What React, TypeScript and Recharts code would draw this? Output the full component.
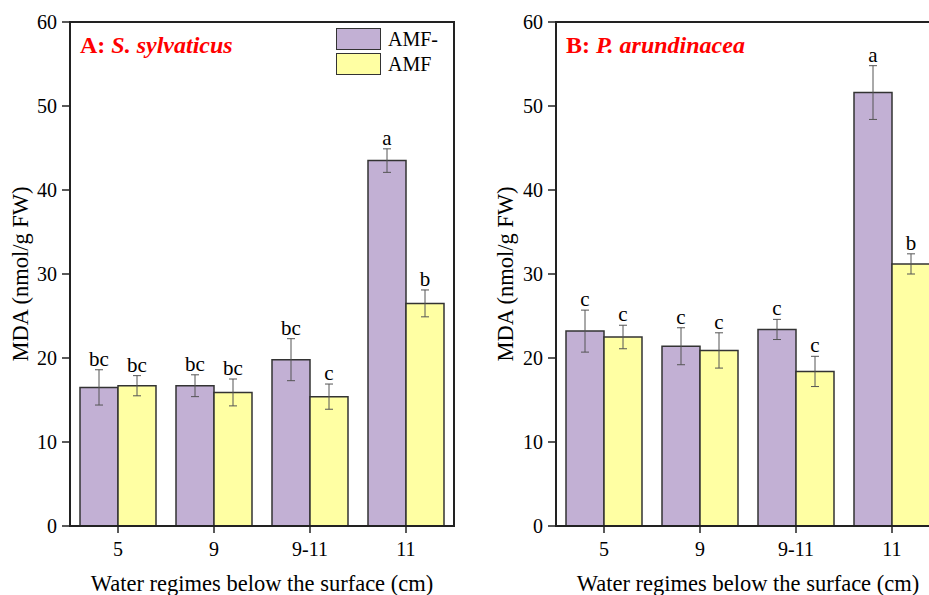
import React from "react";
import {
  BarChart, Bar, XAxis, YAxis, ErrorBar, LabelList, ReferenceArea,
} from "recharts";

const categories = ["5", "9", "9-11", "11"];
const yTicks = [0, 10, 20, 30, 40, 50, 60];
const seriesNames = ["AMF-", "AMF"];

// A: S. sylvaticus
const ssNeg = [16.5, 16.7, 19.8, 43.5];
const ssNegErr = [2.1, 1.3, 2.5, 1.4];
const ssNegLetters = ["bc", "bc", "bc", "a"];
const ssPos = [16.7, 15.9, 15.4, 26.5];
const ssPosErr = [1.2, 1.6, 1.5, 1.6];
const ssPosLetters = ["bc", "bc", "c", "b"];

// B: P. arundinacea
const paNeg = [23.2, 21.4, 23.4, 51.6];
const paNegErr = [2.5, 2.2, 1.2, 3.2];
const paNegLetters = ["c", "c", "c", "a"];
const paPos = [22.5, 20.9, 18.4, 31.2];
const paPosErr = [1.4, 2.1, 1.8, 1.2];
const paPosLetters = ["c", "c", "c", "b"];

const FONT = "'Liberation Serif', 'Times New Roman', serif";
const PURPLE = "#c2b0d4";
const YELLOW = "#ffffa3";
const COLORS = [PURPLE, YELLOW];

function buildRows(neg: number[], negErr: number[], pos: number[], posErr: number[]) {
  return categories.map((c, i) => ({
    cat: c, neg: neg[i], negErr: negErr[i], pos: pos[i], posErr: posErr[i],
  }));
}

const letterContent = (vals: number[], errs: number[], letters: string[]) => (props: any) => {
  const { x, y, width, height, index } = props;
  const h = Math.abs(Number(height));
  const pxPer = h / vals[index];
  const top = Number(y) - errs[index] * pxPer;
  return (
    <text x={Number(x) + Number(width) / 2} y={top - 4} textAnchor="middle"
      fontSize={21} fontFamily={FONT} fill="#000">
      {letters[index]}
    </text>
  );
};

const LegendBox = () => (
  <div style={{ position: "absolute", left: 336, top: 28, fontFamily: FONT, fontSize: 20, color: "#000", lineHeight: "22px" }}>
    {seriesNames.map((name, i) => (
      <div key={name} style={{ display: "flex", alignItems: "center", marginBottom: 3 }}>
        <div style={{ width: 43, height: 20, background: COLORS[i], border: "1.5px solid #333", marginRight: 7 }} />
        <span>{name}</span>
      </div>
    ))}
  </div>
);

interface PanelProps {
  left: number;
  width: number;
  yAxisWidth: number;
  titleX: number;
  prefix: string;
  species: string;
  neg: number[]; negErr: number[]; negLetters: string[];
  pos: number[]; posErr: number[]; posLetters: string[];
  showLegend?: boolean;
}

function Panel(p: PanelProps) {
  const data = buildRows(p.neg, p.negErr, p.pos, p.posErr);
  const marginRight = p.width - p.yAxisWidth - 384;
  return (
    <div style={{ position: "absolute", left: p.left, top: 0, width: p.width, height: 595 }}>
      <BarChart width={p.width} height={595} data={data}
        margin={{ top: 22, right: marginRight, left: 0, bottom: 0 }}
        barCategoryGap={10} barGap={0}>
        <ReferenceArea y1={0} y2={60} fill="none" stroke="#222" strokeWidth={2} ifOverflow="visible" />
        <XAxis dataKey="cat" height={69} tickSize={7} tickMargin={9}
          axisLine={{ stroke: "#222", strokeWidth: 2 }} tickLine={{ stroke: "#222", strokeWidth: 1.5 }}
          tick={{ fontSize: 20, fontFamily: FONT, fill: "#000" }}
          label={{
            content: (lp: any) => {
              const vb = lp.viewBox;
              return (
                <text x={vb.x + vb.width / 2} y={vb.y + 65} textAnchor="middle"
                  fontSize={22.5} fontFamily={FONT} fill="#000">
                  Water regimes below the surface (cm)
                </text>
              );
            },
          }} />
        <YAxis domain={[0, 60]} ticks={yTicks} width={p.yAxisWidth} tickSize={8} tickMargin={5}
          axisLine={{ stroke: "#222", strokeWidth: 2 }} tickLine={{ stroke: "#222", strokeWidth: 1.5 }}
          tick={{ fontSize: 20, fontFamily: FONT, fill: "#000" }}
          label={{
            content: (lp: any) => {
              const vb = lp.viewBox;
              const cx = vb.x + p.titleX;
              const cy = vb.y + vb.height / 2;
              return (
                <text x={cx} y={cy} textAnchor="middle" dominantBaseline="central"
                  transform={`rotate(-90, ${cx}, ${cy})`}
                  fontSize={22.5} fontFamily={FONT} fill="#000">
                  MDA (nmol/g FW)
                </text>
              );
            },
          }} />
        <Bar dataKey="neg" name={seriesNames[0]} fill={PURPLE} stroke="#333" strokeWidth={1.5} isAnimationActive={false}>
          <ErrorBar dataKey="negErr" width={4} stroke="#555" strokeWidth={1} />
          <LabelList dataKey="neg" content={letterContent(p.neg, p.negErr, p.negLetters)} />
        </Bar>
        <Bar dataKey="pos" name={seriesNames[1]} fill={YELLOW} stroke="#333" strokeWidth={1.5} isAnimationActive={false}>
          <ErrorBar dataKey="posErr" width={4} stroke="#555" strokeWidth={1} />
          <LabelList dataKey="pos" content={letterContent(p.pos, p.posErr, p.posLetters)} />
        </Bar>
      </BarChart>
      {p.showLegend && <LegendBox />}
      <svg style={{ position: "absolute", left: 0, top: 0, pointerEvents: "none" }} width={p.width} height={80}>
        <text x={p.yAxisWidth + 10} y={53} fontSize={24} fontFamily={FONT} fontWeight="bold" fill="#ff0000">
          {p.prefix}
          <tspan fontStyle="italic">{p.species}</tspan>
        </text>
      </svg>
    </div>
  );
}

export default function App() {
  return (
    <div style={{ position: "absolute", left: 0, top: 0, width: 929, height: 595, overflow: "hidden", background: "#fff" }}>
      <Panel left={0} width={470} yAxisWidth={70} titleX={20}
        prefix="A: " species="S. sylvaticus"
        neg={ssNeg} negErr={ssNegErr} negLetters={ssNegLetters}
        pos={ssPos} posErr={ssPosErr} posLetters={ssPosLetters} showLegend />
      <Panel left={470} width={480} yAxisWidth={86} titleX={35}
        prefix="B: " species="P. arundinacea"
        neg={paNeg} negErr={paNegErr} negLetters={paNegLetters}
        pos={paPos} posErr={paPosErr} posLetters={paPosLetters} />
    </div>
  );
}
